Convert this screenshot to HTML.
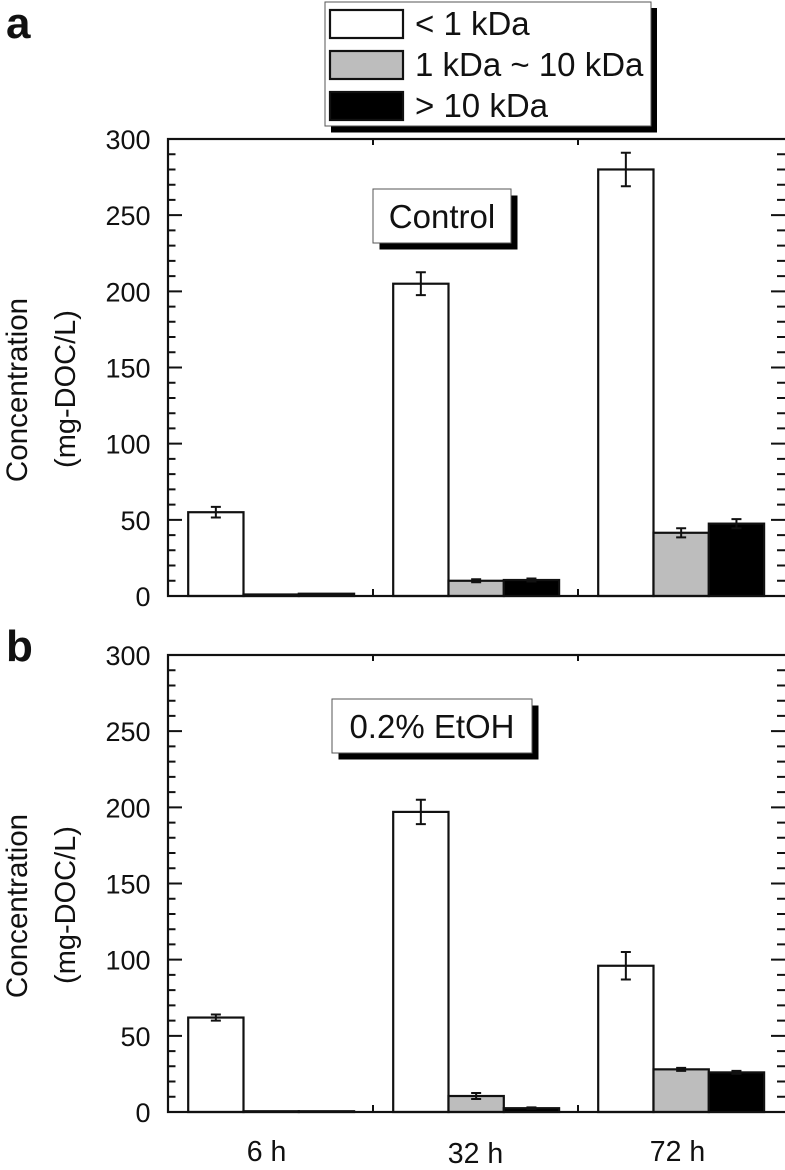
<!DOCTYPE html>
<html>
<head>
<meta charset="utf-8">
<style>
html,body{margin:0;padding:0;background:#fff;width:785px;height:1170px;overflow:hidden}
svg{display:block}
text{font-family:"Liberation Sans",sans-serif;fill:#111}
</style>
</head>
<body>
<svg id="chart" width="785" height="1170" viewBox="0 0 785 1170" xmlns="http://www.w3.org/2000/svg"></svg>
<script>
const timepoints = ['6 h', '32 h', '72 h'];
const seriesNames = ['< 1 kDa', '1 kDa ~ 10 kDa', '> 10 kDa'];
const yTickLabels = [0, 50, 100, 150, 200, 250, 300];
const yMinorTicks = [10,20,30,40,60,70,80,90,110,120,130,140,160,170,180,190,210,220,230,240,260,270,280,290];

const controlSmall = [55, 205, 280];
const controlMedium = [1, 10, 41.5];
const controlLarge = [1.5, 10.5, 47.5];
const controlSmallErr = [3.5, 7.5, 11];
const controlMediumErr = [0, 1, 3];
const controlLargeErr = [0, 1, 3];

const ethanolSmall = [62, 197, 96];
const ethanolMedium = [0.5, 10.5, 28];
const ethanolLarge = [0.5, 2.5, 26];
const ethanolSmallErr = [2, 8, 9];
const ethanolMediumErr = [0, 2, 1];
const ethanolLargeErr = [0, 0.5, 1];

const NS = 'http://www.w3.org/2000/svg';
const svg = document.getElementById('chart');
const fills = ['#fff', '#bdbdbd', '#000'];
const ink = '#111';
const plotLeft = 168, plotRight = 783, tickRight = 785, plotHeight = 457;
const groupWidth = (plotRight - plotLeft) / 3;
const barWidth = 55.3, groupPad = 20.2;

function make(parent, tag, attrs, text) {
  const el = document.createElementNS(NS, tag);
  for (const k in attrs) el.setAttribute(k, attrs[k]);
  if (text !== undefined) el.textContent = text;
  parent.appendChild(el);
  return el;
}
function xBar(g, s) { return plotLeft + g * groupWidth + groupPad + s * barWidth; }

function drawPanel(cfg) {
  const y = v => cfg.bottom - v / 300 * plotHeight;
  const top = cfg.bottom - plotHeight;
  const panel = make(svg, 'g', {});
  
  

  cfg.values.forEach((vals, s) => {
    vals.forEach((v, g) => {
      const bx = xBar(g, s);
      const r = make(panel, 'rect', {x: bx, y: y(v), width: barWidth, height: Math.max(cfg.bottom - y(v), 0.5), fill: fills[s], stroke: ink, 'stroke-width': 2.2});
      
      
    });
  });
  cfg.errors.forEach((errs, s) => {
    errs.forEach((e, g) => {
      if (!e) return;
      const cx = xBar(g, s) + barWidth / 2;
      const v = cfg.values[s][g];
      const eb = make(panel, 'path', {d: `M${cx-5} ${y(v+e)}H${cx+5}M${cx} ${y(v+e)}V${y(v-e)}M${cx-5} ${y(v-e)}H${cx+5}`, fill: 'none', stroke: ink, 'stroke-width': 2});
      
      
    });
  });

  const frame = make(panel, 'rect', {x: plotLeft, y: top, width: plotRight - plotLeft + 10, height: plotHeight, fill: 'none', stroke: ink, 'stroke-width': 2.2});
  
  

  let d = '';
  yTickLabels.forEach(v => { d += `M${plotLeft} ${y(v)}h14M${tickRight} ${y(v)}h-14`; });
  yMinorTicks.forEach(v => { d += `M${plotLeft} ${y(v)}h7.5M${tickRight} ${y(v)}h-8`; });
  [1, 2].forEach(g => {
    const tx = plotLeft + g * groupWidth;
    d += `M${tx} ${cfg.bottom}v-7M${tx} ${top}v6`;
  });
  const ticks = make(panel, 'path', {d: d, stroke: ink, 'stroke-width': 2, fill: 'none'});
  
  

  yTickLabels.forEach(v => {
    const t = make(panel, 'text', {x: 150.5, y: y(v) + 10, 'text-anchor': 'end', 'font-size': 27}, v);
    
    
  });

  const t1 = make(panel, 'text', {transform: `translate(27 ${cfg.bottom - 206}) rotate(-90)`, 'text-anchor': 'middle', 'font-size': 29.6}, 'Concentration');
  
  
  const t2 = make(panel, 'text', {transform: `translate(75 ${cfg.bottom - 207}) rotate(-90)`, 'text-anchor': 'middle', 'font-size': 29}, '(mg-DOC/L)');
  
  

  const letter = make(panel, 'text', {x: cfg.letterX, y: cfg.letterY, 'font-size': 44, 'font-weight': 'bold'}, cfg.letter);
  
  

  const b = cfg.box;
  const shadow = make(panel, 'rect', {x: b.x + 6.5, y: b.y + 6.5, width: b.w, height: b.h, fill: '#000'});
  
  
  const box = make(panel, 'rect', {x: b.x, y: b.y, width: b.w, height: b.h, fill: '#fff', stroke: '#555', 'stroke-width': 1});
  
  
  const label = make(panel, 'text', {x: b.x + b.w / 2, y: b.y + 39, 'text-anchor': 'middle', 'font-size': 33}, b.text);
  
  
}

drawPanel({
  name: 'panel-a-control', key: 'a', letter: 'a', letterX: 6, letterY: 38, bottom: 596,
  values: [controlSmall, controlMedium, controlLarge],
  errors: [controlSmallErr, controlMediumErr, controlLargeErr],
  box: {x: 373, y: 189, w: 138, h: 54, text: 'Control'}
});
drawPanel({
  name: 'panel-b-ethanol', key: 'b', letter: 'b', letterX: 6, letterY: 661, bottom: 1112,
  values: [ethanolSmall, ethanolMedium, ethanolLarge],
  errors: [ethanolSmallErr, ethanolMediumErr, ethanolLargeErr],
  box: {x: 332, y: 699, w: 200, h: 54, text: '0.2% EtOH'}
});

const xLabelBaselines = [1161, 1163, 1161];
const xLabelOffsets = [-4, 0, -3];
timepoints.forEach((name, g) => {
  const t = make(svg, 'text', {x: plotLeft + (g + 0.5) * groupWidth + xLabelOffsets[g], y: xLabelBaselines[g], 'text-anchor': 'middle', 'font-size': 28.5}, name);
  
  
});

const legend = make(svg, 'g', {});


const legendShadow = make(legend, 'rect', {x: 331, y: 8, width: 326, height: 124.5, fill: '#000'});


const legendBox = make(legend, 'rect', {x: 325, y: 2, width: 326, height: 124, fill: '#fff', stroke: '#555', 'stroke-width': 1});


const swatchTops = [10, 51, 92];
const legendBaselines = [35, 76, 117];
seriesNames.forEach((name, s) => {
  const sw = make(legend, 'rect', {x: 330, y: swatchTops[s], width: 73, height: 28, fill: fills[s], stroke: ink, 'stroke-width': 2.2});
  
  
  const t = make(legend, 'text', {x: 415, y: legendBaselines[s], 'font-size': 33}, name);
  
  
});
</script>
</body>
</html>
